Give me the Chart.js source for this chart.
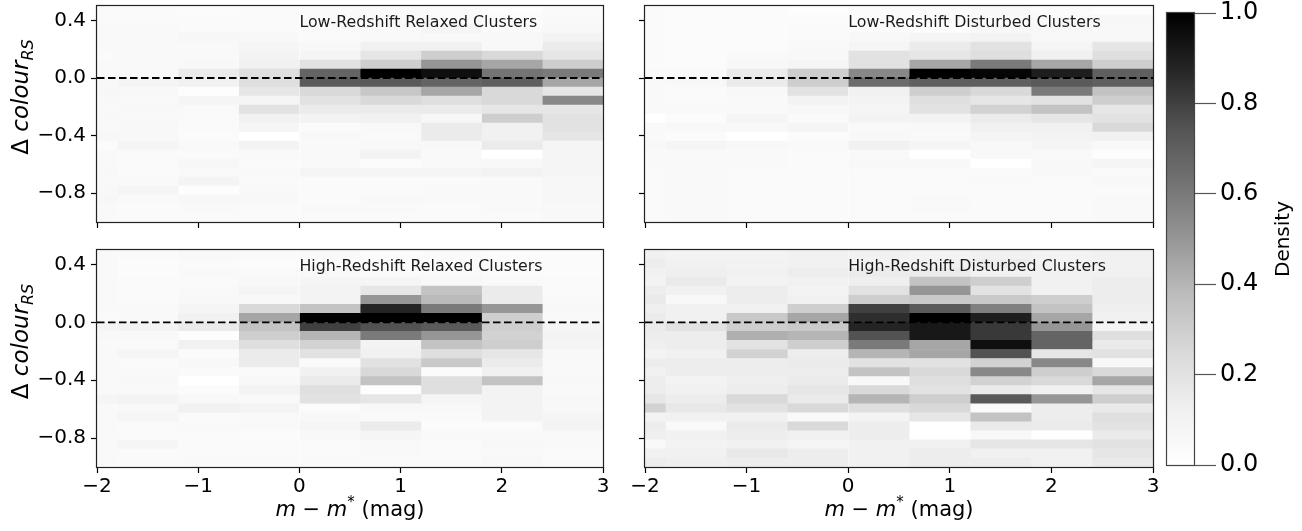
<!DOCTYPE html>
<html><head><meta charset="utf-8">
<script src="https://cdn.jsdelivr.net/npm/chart.js@4.4.1/dist/chart.umd.min.js"></script>
<style>
html,body{margin:0;padding:0;background:#fff;}
#wrap{position:relative;width:1302px;height:531px;overflow:hidden;background:#fff;}
canvas{position:absolute;left:0;top:0;}
</style></head><body><div id="wrap">
<canvas id="p0" width="1302" height="531"></canvas>
<canvas id="p1" width="1302" height="531"></canvas>
<canvas id="p2" width="1302" height="531"></canvas>
<canvas id="p3" width="1302" height="531"></canvas>
<canvas id="cb" width="1302" height="531"></canvas>
</div>
<script>
// ---- data ----
const magBinEdges = [-2.4, -1.8, -1.2, -0.6, 0.0, 0.6, 1.2, 1.8, 2.4, 3.0];
const colourBinCentres = [0.46875, 0.40625, 0.34375, 0.28125, 0.21875, 0.15625, 0.09375, 0.03125,
  -0.03125, -0.09375, -0.15625, -0.21875, -0.28125, -0.34375, -0.40625, -0.46875,
  -0.53125, -0.59375, -0.65625, -0.71875, -0.78125, -0.84375, -0.90625, -0.96875];
const xTickValues = [-2, -1, 0, 1, 2, 3];
const xTickLabels = ['\u22122', '\u22121', '0', '1', '2', '3'];
const yTickValues = [-0.8, -0.4, 0.0, 0.4];
const yTickLabels = ['\u22120.8', '\u22120.4', '0.0', '0.4'];
const cbTickValues = [0, 0.2, 0.4, 0.6, 0.8, 1.0];
const cbTickLabels = ['0.0', '0.2', '0.4', '0.6', '0.8', '1.0'];
const panelTitles = ['Low-Redshift Relaxed Clusters', 'Low-Redshift Disturbed Clusters',
  'High-Redshift Relaxed Clusters', 'High-Redshift Disturbed Clusters'];

// density (x100), rows top (0.5) -> bottom (-1.0), columns = magnitude bins
const lowRelaxed = [
  [4,4,3,4,4,4,3,2,4],
  [4,4,4,4,4,4,4,3,5],
  [5,5,4,4,5,5,8,4,6],
  [5,5,7,6,4,5,6,6,10],
  [5,5,5,8,6,12,12,6,15],
  [4,5,5,10,8,18,30,25,18],
  [5,5,6,12,20,30,50,45,30],
  [5,5,15,22,68,100,95,62,60],
  [6,8,12,22,72,72,68,70,45],
  [7,6,2,18,25,33,45,25,18],
  [6,5,8,8,20,25,22,25,55],
  [5,6,5,20,15,15,15,18,18],
  [6,5,4,12,10,12,7,30,20],
  [5,6,4,8,3,6,15,12,20],
  [7,6,3,0,6,5,15,12,18],
  [3,8,5,10,5,6,6,15,8],
  [5,4,4,5,5,10,5,0,8],
  [5,4,7,4,5,3,5,6,8],
  [6,4,5,5,8,8,8,10,8],
  [5,5,9,4,4,4,4,5,7],
  [6,8,2,5,4,4,5,5,7],
  [7,5,7,6,4,6,5,5,7],
  [5,4,5,4,5,5,4,5,6],
  [5,4,4,4,4,4,4,4,6]
];
const lowDisturbed = [
  [4,3,3,2,3,3,5,3,2],
  [4,3,3,3,4,3,4,5,7],
  [4,3,3,4,4,2,6,7,6],
  [4,3,3,4,6,8,10,6,6],
  [4,3,3,5,8,15,20,8,18],
  [4,3,5,6,20,18,22,12,22],
  [4,3,6,8,20,45,60,45,30],
  [5,5,15,30,55,100,98,90,70],
  [5,6,15,30,65,70,70,72,70],
  [5,4,6,20,12,30,25,60,35],
  [5,4,5,10,10,22,18,20,30],
  [5,5,5,7,8,20,28,35,18],
  [0,3,8,4,10,10,15,18,20],
  [5,6,6,8,5,6,12,12,25],
  [5,3,0,3,6,5,8,10,12],
  [6,8,6,5,12,8,6,8,5],
  [5,5,5,4,5,0,6,5,2],
  [5,5,5,4,6,6,0,6,8],
  [4,5,4,4,4,4,4,6,4],
  [4,5,4,4,4,4,5,4,6],
  [4,5,4,4,4,4,4,4,4],
  [4,5,4,4,4,5,4,4,5],
  [4,5,4,4,4,5,4,4,5],
  [4,5,4,4,4,4,4,4,5]
];
const highRelaxed = [
  [5,4,6,4,5,3,4,3,3],
  [5,3,4,3,3,4,4,3,3],
  [5,3,5,4,6,4,5,4,3],
  [5,4,4,6,8,8,6,5,4],
  [5,4,5,8,10,18,35,15,4],
  [5,4,6,6,10,50,38,15,5],
  [5,5,8,25,35,88,60,50,6],
  [4,5,12,45,100,100,100,30,5],
  [8,10,15,35,80,75,72,30,8],
  [6,6,2,30,40,60,50,28,10],
  [5,5,12,22,28,10,35,30,8],
  [5,8,3,15,20,12,22,18,6],
  [5,4,6,15,4,20,32,15,5],
  [5,5,4,4,12,25,3,12,5],
  [5,6,0,6,15,35,22,35,6],
  [5,5,3,10,22,2,22,10,5],
  [8,10,6,5,20,18,8,10,6],
  [5,6,12,10,3,6,6,10,6],
  [5,8,4,5,6,5,4,10,8],
  [5,4,5,5,8,15,3,3,10],
  [5,4,4,3,6,8,5,5,5],
  [5,8,4,4,4,5,4,6,5],
  [5,4,4,4,4,5,4,5,4],
  [5,4,5,5,5,4,4,6,4]
];
const highDisturbed = [
  [12,10,10,12,12,10,12,10,12],
  [14,12,11,12,10,12,14,10,12],
  [12,13,12,14,15,15,12,12,12],
  [10,16,10,12,13,35,30,12,14],
  [14,12,14,10,20,50,20,12,14],
  [16,6,14,12,30,32,32,30,14],
  [13,12,12,30,80,72,58,35,13],
  [15,12,32,45,85,100,90,45,12],
  [15,20,30,32,88,92,82,50,8],
  [14,14,42,40,75,92,82,68,22],
  [13,14,20,30,60,45,95,68,16],
  [10,12,28,14,40,45,75,18,20],
  [14,14,14,15,20,20,28,55,6],
  [12,14,14,14,35,25,55,30,25],
  [14,10,13,15,6,22,28,25,45],
  [14,12,14,18,25,20,15,12,18],
  [18,14,25,16,40,30,72,50,30],
  [28,17,20,25,22,25,3,14,16],
  [10,12,12,5,10,18,35,14,22],
  [14,5,15,25,14,0,16,15,20],
  [13,12,14,12,14,0,6,0,15],
  [5,10,12,8,12,12,18,18,20],
  [12,12,17,14,12,14,12,12,18],
  [14,13,14,14,12,14,14,12,16]
];

// ---- Greys colormap ----
const GREY_STOPS = [255, 240, 217, 189, 150, 115, 82, 37, 0];
function greys(v) {
  v = Math.max(0, Math.min(1, v));
  const i = Math.min(7, Math.floor(v * 8));
  const t = v * 8 - i;
  const g = Math.round(GREY_STOPS[i] + (GREY_STOPS[i + 1] - GREY_STOPS[i]) * t);
  return 'rgb(' + g + ',' + g + ',' + g + ')';
}

const FONT = '"DejaVu Sans", "Liberation Sans", sans-serif';

function drawRuns(ctx, runs, x, y, rotate) {
  ctx.save();
  ctx.translate(x, y);
  if (rotate) ctx.rotate(rotate);
  ctx.textBaseline = 'alphabetic';
  ctx.textAlign = 'left';
  let total = 0;
  runs.forEach(r => { ctx.font = r.font; r.w = ctx.measureText(r.t).width; total += r.w; });
  let cx = -total / 2;
  runs.forEach(r => { ctx.font = r.font; ctx.fillStyle = '#000'; ctx.fillText(r.t, cx, r.dy || 0); cx += r.w; });
  ctx.restore();
}

function panelPlugin(title, showXLabel, showYLabel) {
  return {
    id: 'panelDecor',
    afterDatasetsDraw(chart) {
      const ctx = chart.ctx, a = chart.chartArea;
      const xs = chart.scales.x, ys = chart.scales.y;
      ctx.save();
      ctx.font = '15.8px ' + FONT;
      ctx.fillStyle = '#1a1a1a';
      ctx.textBaseline = 'middle';
      ctx.textAlign = 'left';
      ctx.fillText(title, xs.getPixelForValue(0), ys.getPixelForValue(0.38));
      ctx.strokeStyle = '#222';
      ctx.lineWidth = 1.2;
      ctx.strokeRect(a.left - 0.5, a.top - 0.5, a.right - a.left + 1, a.bottom - a.top + 1);
      ctx.restore();
      const cxm = (a.left + a.right) / 2;
      if (showXLabel) {
        drawRuns(ctx, [
          {t: 'm', font: 'italic 21px ' + FONT},
          {t: ' \u2212 ', font: '21px ' + FONT},
          {t: 'm', font: 'italic 21px ' + FONT},
          {t: '*', font: '15px ' + FONT, dy: -9},
          {t: ' (mag)', font: '21px ' + FONT}
        ], cxm, a.bottom + 49, 0);
      }
      if (showYLabel) {
        drawRuns(ctx, [
          {t: '\u0394 ', font: '23px ' + FONT},
          {t: 'colour', font: 'italic 23px ' + FONT},
          {t: 'RS', font: 'italic 16px ' + FONT, dy: 5}
        ], 28, (a.top + a.bottom) / 2 - 17, -Math.PI / 2);
      }
    }
  };
}

function makePanel(id, density, title, area, showX, showY) {
  const datasets = [];
  for (let c = 0; c < magBinEdges.length - 1; c++) {
    datasets.push({
      type: 'bar',
      indexAxis: 'y',
      data: colourBinCentres.map(yc => ({y: yc, x: [magBinEdges[c], magBinEdges[c + 1]]})),
      backgroundColor: colourBinCentres.map((yc, r) => greys(density[r][c] / 100)),
      borderWidth: 0,
      grouped: false,
      barPercentage: 1,
      categoryPercentage: 1,
      order: 2
    });
  }
  datasets.push({
    type: 'line',
    data: [{x: -2, y: 0}, {x: 3, y: 0}],
    borderColor: '#000',
    borderWidth: 1.9,
    borderDash: [7.5, 3.5],
    pointRadius: 0,
    order: 0
  });
  const YW = 70, XH = 40;
  new Chart(document.getElementById(id), {
    type: 'bar',
    data: {datasets},
    options: {
      responsive: false,
      animation: false,
      indexAxis: 'y',
      devicePixelRatio: 1,
      layout: {padding: {left: area.left - YW, right: 1302 - area.right, top: area.top, bottom: 531 - area.bottom - XH}},
      plugins: {legend: {display: false}, tooltip: {enabled: false}},
      scales: {
        x: {
          type: 'linear', position: 'bottom', min: -2, max: 3, offset: false,
          afterBuildTicks: s => { s.ticks = xTickValues.map(v => ({value: v})); },
          afterFit: s => { s.height = XH; s.paddingLeft = 0; s.paddingRight = 0; s.paddingTop = 0; s.paddingBottom = 0; },
          ticks: {display: showX, color: '#000', font: {family: FONT, size: 20}, padding: 2, maxRotation: 0,
            callback: (v, i) => xTickLabels[i]},
          grid: {display: true, offset: false, drawOnChartArea: false, drawTicks: true, tickLength: 6, tickColor: '#000', tickWidth: 1.2},
          border: {display: false}
        },
        y: {
          type: 'linear', position: 'left', min: -1, max: 0.5, offset: false,
          afterBuildTicks: s => { s.ticks = yTickValues.map(v => ({value: v})); },
          afterFit: s => { s.width = YW; s.paddingLeft = 0; s.paddingRight = 0; s.paddingTop = 0; s.paddingBottom = 0; },
          ticks: {display: showY, color: '#000', font: {family: FONT, size: 20}, padding: 5,
            callback: (v, i) => yTickLabels[i]},
          grid: {display: true, offset: false, drawOnChartArea: false, drawTicks: true, tickLength: 6, tickColor: '#000', tickWidth: 1.2},
          border: {display: false}
        }
      }
    },
    plugins: [panelPlugin(title, showX, showY)]
  });
}

makePanel('p0', lowRelaxed, panelTitles[0], {left: 97, right: 603, top: 6, bottom: 222}, false, true);
makePanel('p1', lowDisturbed, panelTitles[1], {left: 645, right: 1153, top: 6, bottom: 222}, false, false);
makePanel('p2', highRelaxed, panelTitles[2], {left: 97, right: 603, top: 250, bottom: 467}, true, true);
makePanel('p3', highDisturbed, panelTitles[3], {left: 645, right: 1153, top: 250, bottom: 467}, true, false);

// ---- colour bar ----
const CBW = 100;
new Chart(document.getElementById('cb'), {
  type: 'bar',
  data: {labels: [''], datasets: [{
    data: [[0, 1]],
    borderWidth: 0,
    barPercentage: 1,
    categoryPercentage: 1,
    backgroundColor: (ctx) => {
      const a = ctx.chart.chartArea;
      if (!a) return '#888';
      const g = ctx.chart.ctx.createLinearGradient(0, a.bottom, 0, a.top);
      for (let i = 0; i <= 40; i++) g.addColorStop(i / 40, greys(i / 40));
      return g;
    }
  }]},
  options: {
    responsive: false,
    animation: false,
    devicePixelRatio: 1,
    layout: {padding: {left: 1167, right: 1302 - 1194 - CBW, top: 13, bottom: 531 - 465}},
    plugins: {legend: {display: false}, tooltip: {enabled: false}},
    scales: {
      x: {type: 'category', display: false},
      y: {
        type: 'linear', position: 'right', min: 0, max: 1,
        afterBuildTicks: s => { s.ticks = cbTickValues.map(v => ({value: v})); },
        afterFit: s => { s.width = CBW; s.paddingTop = 0; s.paddingBottom = 0; },
        ticks: {color: '#000', font: {family: FONT, size: 24}, padding: 4, callback: (v, i) => cbTickLabels[i]},
        grid: {display: true, drawOnChartArea: false, drawTicks: true, tickLength: 22, tickColor: '#555', tickWidth: 1.2},
        border: {display: false}
      }
    }
  },
  plugins: [{
    id: 'cbDecor',
    afterDatasetsDraw(chart) {
      const ctx = chart.ctx, a = chart.chartArea;
      ctx.save();
      ctx.strokeStyle = '#444';
      ctx.lineWidth = 1.2;
      ctx.strokeRect(a.left - 0.5, a.top - 0.5, a.right - a.left + 1, a.bottom - a.top + 1);
      ctx.restore();
      drawRuns(ctx, [{t: 'Density', font: '20px ' + FONT}], 1289, (a.top + a.bottom) / 2, -Math.PI / 2);
    }
  }]
});
</script>
</body></html>
